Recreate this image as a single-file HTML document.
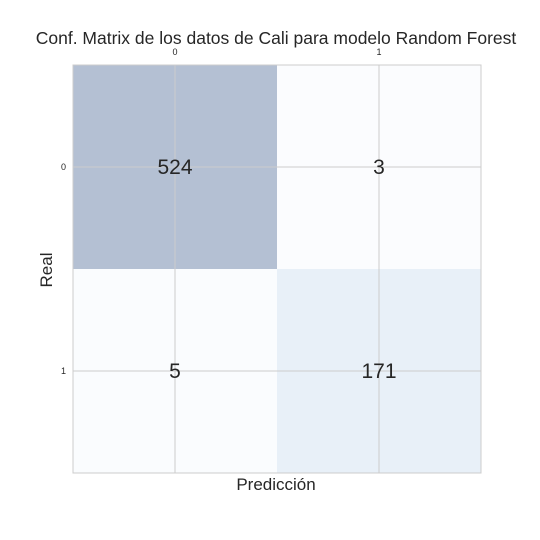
<!DOCTYPE html>
<html><head><meta charset="utf-8"><style>
body{margin:0;background:#fff;}
svg{display:block;font-family:"Liberation Sans",sans-serif;}
</style></head><body>
<svg id="chart" width="540" height="540" viewBox="0 0 540 540">
<text x="276" y="44" text-anchor="middle" font-size="17.5" fill="#262626">Conf. Matrix de los datos de Cali para modelo Random Forest</text>
<g id="cells"></g>
<g id="grid"></g>
<rect x="73" y="65" width="408" height="408" fill="none" stroke="#cccccc" stroke-width="1"/>
<g id="labels"></g>
<text x="276" y="490" text-anchor="middle" font-size="17" fill="#262626">Predicción</text>
<text x="52" y="270" text-anchor="middle" font-size="17" fill="#262626" transform="rotate(-90 52 270)">Real</text>
</svg>
<script>
const classes = ["0", "1"];
const row0 = [524, 3];
const row1 = [5, 171];
const matrix = [row0, row1];

const ns = "http://www.w3.org/2000/svg";
const x0 = 73, y0 = 65, size = 408;
const n = classes.length, cw = size / n;
const xPos = i => x0 + i * cw;
const yPos = i => y0 + i * cw;
const maxV = Math.max(...matrix.flat());
const stops = [[0,[251,252,254]],[0.33,[232,240,248]],[1,[180,192,211]]];
function color(v){
  const t = v / maxV;
  let i = 0;
  while (i < stops.length - 2 && t > stops[i+1][0]) i++;
  const [ta, ca] = stops[i], [tb, cb] = stops[i+1];
  const f = Math.max(0, Math.min(1, (t - ta) / (tb - ta)));
  const c = ca.map((a,k)=>Math.round(a + (cb[k]-a)*f));
  return `rgb(${c[0]},${c[1]},${c[2]})`;
}
const cells = document.getElementById('cells');
const grid = document.getElementById('grid');
const labels = document.getElementById('labels');
for (let r = 0; r < n; r++) for (let c = 0; c < n; c++) {
  const v = matrix[r][c];
  const rect = document.createElementNS(ns, 'rect');
  rect.setAttribute('x', xPos(c)); rect.setAttribute('y', yPos(r));
  rect.setAttribute('width', cw); rect.setAttribute('height', cw);
  rect.setAttribute('fill', color(v));
  
  
  cells.appendChild(rect);
  const t = document.createElementNS(ns, 'text');
  t.setAttribute('x', xPos(c) + cw / 2); t.setAttribute('y', yPos(r) + cw / 2 + 7);
  t.setAttribute('text-anchor', 'middle'); t.setAttribute('font-size', '21'); t.setAttribute('fill', '#262626');
  t.textContent = v;
  
  
  labels.appendChild(t);
}
for (let i = 0; i < n; i++) {
  const cx = xPos(i) + cw / 2, cy = yPos(i) + cw / 2;
  const v = document.createElementNS(ns, 'line');
  v.setAttribute('x1', cx); v.setAttribute('x2', cx); v.setAttribute('y1', y0); v.setAttribute('y2', y0 + size);
  v.setAttribute('stroke', '#cccccc'); v.setAttribute('stroke-width', '1');
  
  
  grid.appendChild(v);
  const h = document.createElementNS(ns, 'line');
  h.setAttribute('y1', cy); h.setAttribute('y2', cy); h.setAttribute('x1', x0); h.setAttribute('x2', x0 + size);
  h.setAttribute('stroke', '#cccccc'); h.setAttribute('stroke-width', '1');
  
  
  grid.appendChild(h);
  const xt = document.createElementNS(ns, 'text');
  xt.setAttribute('x', cx); xt.setAttribute('y', 55); xt.setAttribute('text-anchor', 'middle');
  xt.setAttribute('font-size', '9'); xt.setAttribute('fill', '#262626');
  xt.textContent = classes[i];
  
  
  labels.appendChild(xt);
  const yt = document.createElementNS(ns, 'text');
  yt.setAttribute('x', 66); yt.setAttribute('y', cy + 3); yt.setAttribute('text-anchor', 'end');
  yt.setAttribute('font-size', '9'); yt.setAttribute('fill', '#262626');
  yt.textContent = classes[i];
  
  
  labels.appendChild(yt);
}
</script>
</body></html>
